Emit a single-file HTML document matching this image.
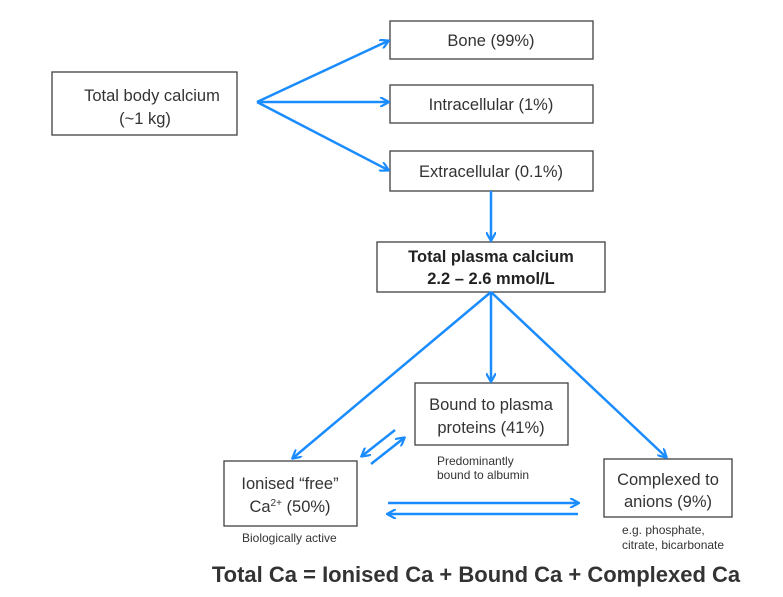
<!DOCTYPE html>
<html><head><meta charset="utf-8"><style>
body{margin:0;background:#fff;width:783px;height:592px;overflow:hidden;font-family:"Liberation Sans",sans-serif}
</style></head><body>
<svg width="783" height="592" xmlns="http://www.w3.org/2000/svg" font-family="Liberation Sans, sans-serif">
<defs><marker id="a" markerWidth="10" markerHeight="10" refX="8" refY="5" orient="auto" markerUnits="userSpaceOnUse"><path d="M0,0 L9,5 L0,10" fill="none" stroke="#1a8cff" stroke-width="2.2"/></marker></defs>
<g fill="#fff" stroke="#404040" stroke-width="1.3">
<rect x="52" y="72" width="185" height="63"/>
<rect x="390" y="21" width="203" height="38"/>
<rect x="390" y="85" width="203" height="38"/>
<rect x="390" y="151" width="203" height="40"/>
<rect x="377" y="242" width="228" height="50"/>
<rect x="415" y="383" width="153" height="62"/>
<rect x="224" y="461" width="133" height="65"/>
<rect x="604" y="459" width="128" height="58"/>
</g>
<g stroke="#1a8cff" stroke-width="2.5" fill="none" marker-end="url(#a)">
<line x1="257" y1="102" x2="388" y2="41"/>
<line x1="257" y1="102" x2="388" y2="102"/>
<line x1="257" y1="102" x2="388" y2="170"/>
<line x1="491" y1="191" x2="491" y2="240"/>
<line x1="491" y1="292" x2="293" y2="458"/>
<line x1="491" y1="292" x2="491" y2="381"/>
<line x1="491" y1="292" x2="666" y2="457"/>
<line x1="395" y1="430" x2="362" y2="456"/>
<line x1="371" y1="464" x2="404" y2="438"/>
<line x1="388" y1="503" x2="578" y2="503"/>
<line x1="578" y1="514" x2="388" y2="514"/>
</g>
<g fill="#333" font-size="16.5" text-anchor="middle">
<text x="152" y="101">Total body calcium</text>
<text x="145" y="124">(~1 kg)</text>
<text x="491" y="46">Bone (99%)</text>
<text x="491" y="110">Intracellular (1%)</text>
<text x="491" y="177">Extracellular (0.1%)</text>
<text x="491" y="262" font-weight="bold" fill="#222">Total plasma calcium</text>
<text x="491" y="284" font-weight="bold" fill="#222">2.2 – 2.6 mmol/L</text>
<text x="491" y="410">Bound to plasma</text>
<text x="491" y="433">proteins (41%)</text>
<text x="290" y="489">Ionised “free”</text>
<text x="290" y="512">Ca<tspan font-size="10" dy="-6">2+</tspan><tspan dy="6"> (50%)</tspan></text>
<text x="668" y="485">Complexed to</text>
<text x="668" y="507">anions (9%)</text>
</g>
<g fill="#333" font-size="12">
<text x="437" y="465">Predominantly</text>
<text x="437" y="479">bound to albumin</text>
<text x="242" y="542">Biologically active</text>
<text x="622" y="534">e.g. phosphate,</text>
<text x="622" y="549">citrate, bicarbonate</text>
</g>
<text x="476" y="582" text-anchor="middle" font-size="22" font-weight="bold" fill="#333">Total Ca = Ionised Ca + Bound Ca + Complexed Ca</text>
</svg>
</body></html>
